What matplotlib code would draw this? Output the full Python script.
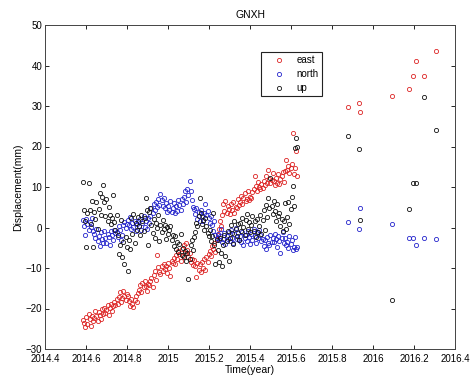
import numpy as np
import matplotlib

matplotlib.use("Agg")
import matplotlib.pyplot as plt
from matplotlib.ticker import FixedLocator, FixedFormatter

# ---------------------------------------------------------------------------
# GNXH daily solutions (2-day sampling), displacement in mm
# ---------------------------------------------------------------------------
T0 = 2014.585          # first epoch of the continuous block (year)
STEP_DAYS = 2.0        # sampling interval of the continuous block

EAST = [
    -22.8, -23.5, -24.6, -22.1, -23.9, -21.4, -22.7, -24.2, -21.9, -23.0,
    -22.4, -20.6, -21.8, -23.1, -20.9, -21.7, -22.5, -20.2, -21.3, -19.8,
    -21.0, -20.4, -19.2, -21.6, -19.9, -18.8, -20.7, -19.5, -18.4, -19.1,
    -17.6, -18.9, -17.2, -16.0, -18.3, -17.5, -15.8, -16.9, -17.8, -16.4,
    -17.0, -18.2, -19.4, -17.6, -18.8, -19.7, -17.9, -16.8, -18.5, -16.2,
    -15.4, -14.1, -15.9, -13.6, -14.8, -13.2, -14.5, -15.7, -13.9, -14.3,
    -13.1, -12.4, -14.6, -11.8, -10.7, -12.9, -6.8, -9.8, -10.9, -11.6,
    -9.4, -10.8, -8.9, -10.2, -9.6, -11.3, -8.7, -9.9, -12.0, -8.3,
    -8.8, -7.6, -9.1, -6.9, -7.8, -5.9, -6.6, -8.2, -5.4, -7.1,
    -4.3, -6.4, -3.8, -5.6, -7.4, -6.2, -8.5, -7.7, -9.3, -8.1,
    -9.6, -12.2, -8.8, -10.4, -9.1, -11.0, -8.4, -9.9, -7.9, -10.6,
    -7.3, -8.6, -6.5, -5.8, -7.1, -4.6, -5.3, -3.9, -6.0, -2.8,
    -1.9, -0.4, 1.5, 0.3, 3.2, 5.8, 4.1, 6.6, 3.7, 5.2,
    4.6, 3.3, 5.9, 4.4, 6.3, 3.6, 5.1, 4.8, 7.0, 5.5,
    6.2, 7.8, 5.9, 7.3, 8.4, 6.6, 7.1, 8.9, 6.9, 7.6,
    7.4, 8.7, 9.6, 12.8, 10.3, 9.1, 11.2, 10.0, 9.4, 10.7,
    9.8, 11.4, 10.6, 12.6, 11.1, 14.3, 12.0, 10.9, 11.7, 13.4,
    11.5, 10.4, 12.3, 11.0, 13.1, 10.8, 11.9, 12.7, 13.6, 11.3,
    13.9, 16.7, 14.2, 15.3, 13.5, 14.8, 15.6, 23.4, 13.3, 14.6,
    18.9, 12.6,
]

NORTH = [
    1.8, 0.4, -1.9, 2.1, 0.9, -0.6, 1.3, 0.2, 2.4, -0.8,
    -1.5, -2.6, -0.3, -3.4, -2.1, -4.6, -1.2, -2.9, -3.8, -0.9,
    -2.7, -3.9, -1.6, -2.3, -4.2, -0.8, -1.9, -3.1, -0.5, -1.4,
    -1.1, -2.4, 0.3, -0.6, -3.0, -1.8, 0.6, 1.4, -0.2, 0.9,
    1.9, 0.5, 2.6, -0.4, 1.1, 0.2, 1.7, -0.9, 0.8, 1.5,
    0.4, 2.2, -0.7, 1.0, 2.8, 0.1, 1.6, -0.3, 2.3, 1.2,
    2.9, 4.7, 3.6, 5.9, 4.2, 6.4, 5.1, 7.0, 5.6, 8.3,
    6.8, 5.2, 7.4, 4.9, 6.1, 3.8, 5.4, 4.4, 6.5, 3.9,
    4.8, 6.0, 3.5, 5.3, 4.1, 6.7, 5.5, 4.3, 7.1, 5.8,
    7.6, 8.9, 6.3, 9.5, 8.1, 11.4, 9.0, 6.8, 5.0, 4.6,
    3.4, 4.9, 2.1, 3.8, 1.7, 4.2, 2.9, 1.5, 3.6, 5.9,
    3.1, 4.0, 2.4, 1.2, 2.8, 0.5, -0.9, 1.6, -1.8, -2.5,
    -1.6, -3.2, -2.2, -0.4, -3.7, -2.8, -1.3, -4.1, -2.0, -2.9,
    -1.2, -3.4, -0.6, -2.5, -3.9, -1.7, -0.2, -2.8, -1.4, -3.1,
    -2.1, -3.6, -1.0, -4.4, -2.7, -1.8, -3.3, -0.8, -2.4, -4.0,
    -1.5, -3.0, -0.4, -2.2, -3.8, -1.1, -2.6, -0.7, -1.9, -3.3,
    -2.8, -4.6, -3.1, -5.2, -2.3, -3.9, -4.3, -1.9, -3.5, -2.6,
    -3.7, -1.5, -2.9, -4.8, -2.1, -3.4, -6.3, -2.5, -1.2, -3.9,
    -2.7, -4.4, -3.5, -5.1, -2.2, -4.0, -3.2, -5.6, -4.7, -2.4,
    -5.3, -4.9,
]

UP = [
    11.3, 4.2, 1.5, -4.8, 3.6, 10.9, 4.4, 0.8, 6.6, -4.9,
    3.9, 2.1, 6.2, -0.4, 4.5, 8.6, 3.0, 7.5, 10.6, 6.3,
    2.8, 7.0, 1.6, 5.1, 3.2, 0.9, 2.4, 8.0, 1.3, -0.6,
    3.0, -1.8, -6.5, -4.3, 1.8, -7.2, -3.6, -9.0, -2.4, -4.9,
    -10.7, -3.1, -5.2, 2.3, -1.6, 3.4, -3.8, 1.2, -0.7, 2.6,
    0.4, -1.9, 3.1, 1.6, -0.8, 2.3, 7.2, 4.4, -4.4, 3.8,
    4.9, 0.5, -1.3, 2.0, -2.6, 1.1, -0.2, 3.0, -3.4, 0.7,
    -1.2, 1.8, -0.3, 0.6, -2.8, 0.1, -1.6, -0.5, 0.3, -3.1,
    -1.9, -4.6, -2.2, -5.4, -3.7, -6.0, -4.1, -1.5, -6.8, -5.1,
    -7.4, -5.8, -8.2, -6.4, -12.6, -7.9, -4.2, -3.0, -5.5, -2.4,
    -1.0, 1.2, 0.4, 2.9, 7.2, 3.5, 0.8, 1.9, -0.6, 2.4,
    0.3, -1.4, -2.2, -0.6, -3.3, -2.0, 3.6, -4.2, -9.0, -3.1,
    -5.6, -8.6, -2.5, -6.3, -9.6, -4.4, -1.8, -7.1, -3.4, -0.9,
    -8.3, -2.6, 0.5, -1.3, -4.0, 1.6, -0.4, -2.1, 0.8, -3.2,
    1.1, -0.8, 2.4, 0.2, -1.9, 1.8, 3.3, -0.3, 1.4, -1.1,
    0.6, 2.9, -0.9, 1.5, -2.4, 2.1, -1.2, 0.3, 3.1, -1.6,
    1.9, 4.3, -0.5, 5.6, 2.6, 7.4, 4.8, 12.1, 5.2, 3.4,
    6.6, 4.0, 1.7, 5.9, 2.8, 3.6, 0.4, 2.2, -0.8, 1.5,
    6.1, -0.3, 2.7, 6.4, 0.9, 4.6, 7.6, 10.3, 5.2, 19.6,
    22.1, 19.9,
]

# sparse campaign epochs after the data gap
T_SPARSE = [2015.878, 2015.934, 2015.937, 2016.095, 2016.178,
            2016.197, 2016.212, 2016.249, 2016.309]
EAST_SPARSE = [29.7, 30.8, 28.4, 32.5, 34.1, 37.3, 41.1, 37.5, 43.7]
NORTH_SPARSE = [1.3, -0.4, 4.7, 0.9, -2.7, -2.6, -4.2, -2.7, -2.9]
UP_SPARSE = [22.6, 19.5, 1.9, -17.9, 4.5, 11.0, 10.9, 32.2, 24.0]

X_TICKS = [2014.4, 2014.6, 2014.8, 2015.0, 2015.2, 2015.4, 2015.6,
           2015.8, 2016.0, 2016.2, 2016.4]
X_TICK_LABELS = ["2014.4", "2014.6", "2014.8", "2015", "2015.2", "2015.4",
                 "2015.6", "2015.8", "2016", "2016.2", "2016.4"]
Y_TICKS = [-30, -20, -10, 0, 10, 20, 30, 40, 50]


def main() -> None:
    n = len(EAST)
    t_dense = T0 + np.arange(n) * STEP_DAYS / 365.25
    t = np.concatenate([t_dense, T_SPARSE])
    east = np.concatenate([EAST, EAST_SPARSE])
    north = np.concatenate([NORTH, NORTH_SPARSE])
    up = np.concatenate([UP, UP_SPARSE])

    plt.rcParams["font.family"] = ["Liberation Sans", "DejaVu Sans"]
    fig = plt.figure(figsize=(4.72, 3.79), dpi=100)
    ax = fig.add_axes([45 / 472, 30 / 379, 410 / 472, 324 / 379])

    style = dict(linestyle="none", marker="o", markersize=3.0,
                 markerfacecolor="none", markeredgewidth=0.6)
    ax.plot(t, east, color="#dd2424", label="east", **style)
    ax.plot(t, north, color="#2424cc", label="north", **style)
    ax.plot(t, up, color="#111111", label="up", **style)

    ax.set_xlim(2014.4, 2016.4)
    ax.set_ylim(-30, 50)
    ax.xaxis.set_major_locator(FixedLocator(X_TICKS))
    ax.xaxis.set_major_formatter(FixedFormatter(X_TICK_LABELS))
    ax.set_yticks(Y_TICKS)
    ax.tick_params(direction="in", length=3, width=0.6, labelsize=7,
                   top=True, right=True, pad=2)
    ax.tick_params(axis="x", pad=3.5)
    for spine in ax.spines.values():
        spine.set_linewidth(0.7)
        spine.set_color("#444444")

    ax.set_title("GNXH", fontsize=7.5, pad=5)
    ax.set_xlabel("Time(year)", fontsize=7.5, labelpad=1)
    ax.set_ylabel("Displacement(mm)", fontsize=7.5, labelpad=2)

    leg = ax.legend(loc="upper left", bbox_to_anchor=(0.527, 0.917),
                    fontsize=7, borderaxespad=0, handletextpad=0.3,
                    borderpad=0.35, labelspacing=0.4, handlelength=3.0,
                    fancybox=False, framealpha=1)
    leg.get_frame().set_edgecolor("#222222")
    leg.get_frame().set_linewidth(0.8)

    fig.savefig("out.png", dpi=100)


if __name__ == "__main__":
    main()
